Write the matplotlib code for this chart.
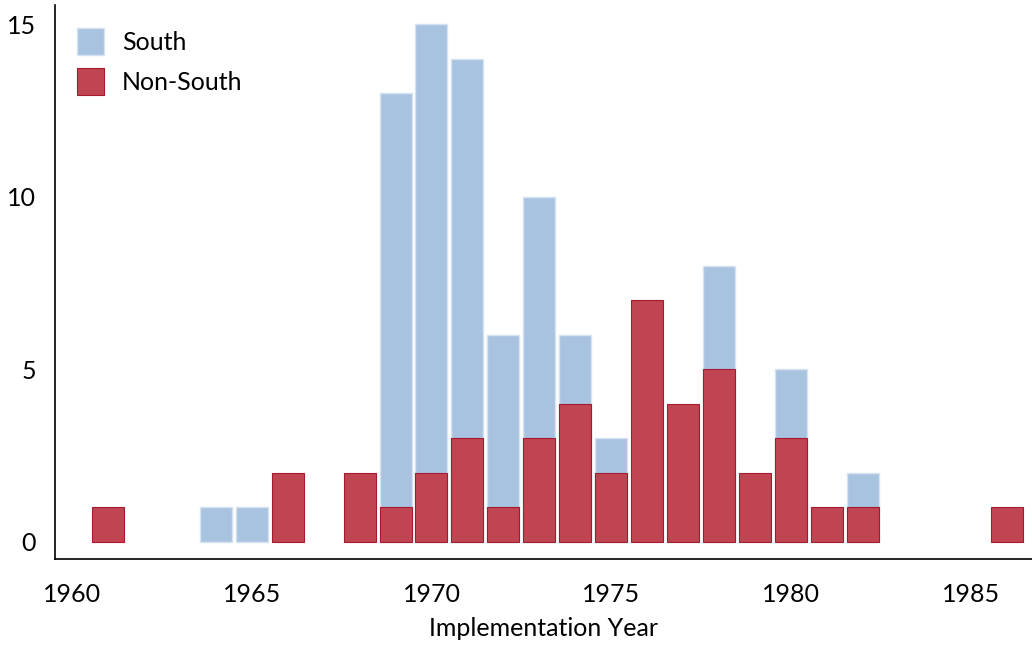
import matplotlib
matplotlib.use("Agg")
import matplotlib.pyplot as plt
import numpy as np

# counts per implementation year
years = np.arange(1961, 1987)
south = np.array([0, 0, 0, 1, 1, 0, 0, 0, 13, 15, 14, 6, 10, 6, 3, 0, 0, 8, 0, 5, 0, 2, 0, 0, 0, 0])
non_south = np.array([1, 0, 0, 0, 0, 2, 0, 2, 1, 2, 3, 1, 3, 4, 2, 7, 4, 5, 2, 3, 1, 1, 0, 0, 0, 1])
x_ticks = [1960, 1965, 1970, 1975, 1980, 1985]
y_ticks = [0, 5, 10, 15]

plt.rcParams["font.family"] = ["Lato", "DejaVu Sans"]

fig = plt.figure(figsize=(10.32, 6.45), dpi=100)
ax = fig.add_axes([55 / 1032, 86 / 645, 977 / 1032, 554 / 645])

# empty years get no bar at all (otherwise the edge shows as a flat line)
s = south > 0
n = non_south > 0
ax.bar(years[s], south[s], width=0.89, color="#a8c3df", edgecolor="#d6e2f0", linewidth=1.0, label="South")
ax.bar(years[n], non_south[n], width=0.89, color="#c04552", edgecolor="#a8182f", linewidth=0.8, label="Non-South")

ax.set_xlim(1959.53, 1986.7)
ax.set_ylim(-0.5, 15.56)
ax.set_xticks(x_ticks)
ax.set_yticks(y_ticks)
ax.tick_params(length=0, labelsize=18)
ax.tick_params(axis="x", pad=17.5)
ax.tick_params(axis="y", pad=13.5)

for side in ("top", "right"):
    ax.spines[side].set_visible(False)
for side in ("left", "bottom"):
    ax.spines[side].set_linewidth(1.2)

ax.set_xlabel("Implementation Year", fontsize=18, labelpad=8)

ax.legend(loc="upper left", bbox_to_anchor=(0.0225, 0.958), frameon=False, fontsize=18,
          borderpad=0, borderaxespad=0, handlelength=1.1, handleheight=1.25,
          handletextpad=0.7, labelspacing=0.55)

fig.savefig("out.png", dpi=100)
